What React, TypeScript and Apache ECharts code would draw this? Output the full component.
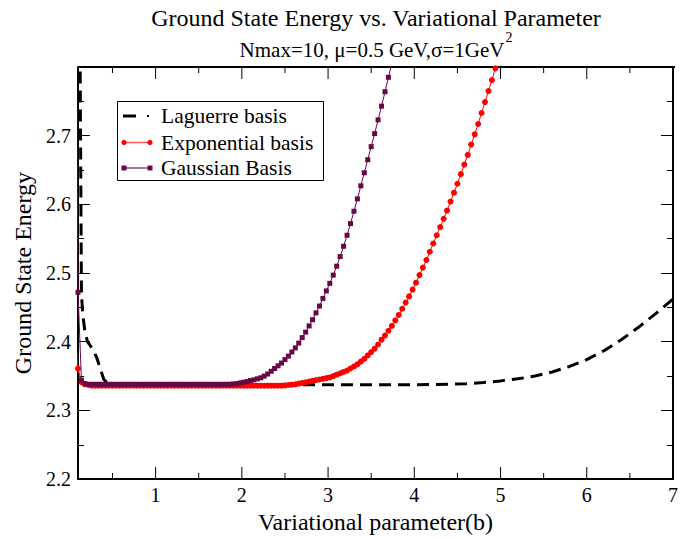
import React, { useEffect, useRef } from 'react';
import * as echarts from 'echarts';

// Parameter grid used by the two marker series: b = B0 + i * DB
const B0 = 0.06;
const DB = 0.04;

// Exponential basis (red, circles)
const expE = [
  2.43, 2.361, 2.341, 2.338, 2.337,
  2.336, 2.336, 2.336, 2.336, 2.336, 2.336, 2.336, 2.336, 2.336, 2.336,
  2.336, 2.336, 2.336, 2.336, 2.336, 2.336, 2.336, 2.336, 2.336, 2.336,
  2.336, 2.336, 2.336, 2.336, 2.336, 2.336, 2.336, 2.336, 2.336, 2.336,
  2.336, 2.336, 2.336, 2.336, 2.336, 2.336, 2.336, 2.336, 2.336, 2.336,
  2.336, 2.336, 2.336, 2.336, 2.336, 2.336, 2.336, 2.336, 2.336, 2.336,
  2.336, 2.336, 2.336, 2.336, 2.336, 2.336,
  2.3365, 2.337, 2.3375, 2.338, 2.339, 2.340, 2.341, 2.342, 2.343, 2.344,
  2.345, 2.346, 2.347, 2.348, 2.350, 2.352, 2.354, 2.356, 2.358, 2.361,
  2.364, 2.367, 2.371, 2.375, 2.380, 2.385, 2.390, 2.396, 2.403, 2.409,
  2.416, 2.423, 2.431, 2.439, 2.448, 2.457, 2.466, 2.476, 2.486, 2.497,
  2.508, 2.519, 2.531, 2.543, 2.555, 2.567, 2.579, 2.591, 2.604, 2.617,
  2.630, 2.644, 2.658, 2.672, 2.687, 2.702, 2.717, 2.733, 2.749, 2.765,
  2.781, 2.798, 2.815,
];

// Gaussian basis (maroon, squares)
const gaussE = [
  3.26, 2.472, 2.344, 2.339,
  2.338, 2.338, 2.338, 2.338, 2.338, 2.338, 2.338, 2.338, 2.338, 2.338,
  2.338, 2.338, 2.338, 2.338, 2.338, 2.338, 2.338, 2.338, 2.338, 2.338,
  2.338, 2.338, 2.338, 2.338, 2.338, 2.338, 2.338, 2.338, 2.338, 2.338,
  2.338, 2.338, 2.338, 2.338, 2.338, 2.338, 2.338, 2.338, 2.338, 2.338,
  2.338, 2.338,
  2.3385, 2.339, 2.340, 2.341, 2.342, 2.3435, 2.3445, 2.346, 2.3475, 2.350,
  2.353, 2.357, 2.361, 2.365, 2.369, 2.374, 2.379, 2.385, 2.391, 2.398,
  2.406, 2.414, 2.423, 2.432, 2.442, 2.452, 2.463, 2.474, 2.485, 2.497,
  2.510, 2.524, 2.539, 2.555, 2.572, 2.590, 2.608, 2.627, 2.646, 2.665,
  2.684, 2.703, 2.723, 2.743, 2.764, 2.785, 2.806, 2.827,
];

// Laguerre basis (black dashed)
const lagB = [
  0.08, 0.11, 0.125, 0.14, 0.155, 0.18, 0.21, 0.25, 0.28, 0.32, 0.36, 0.40,
  0.44, 0.50, 1.0, 2.0, 3.0, 4.0, 4.4, 4.6, 4.8, 5.0, 5.2, 5.4, 5.6, 5.8,
  6.0, 6.2, 6.4, 6.6, 6.8, 7.0,
];
const lagE = [
  3.9, 3.1, 2.80, 2.47, 2.44, 2.415, 2.40, 2.393, 2.387, 2.376, 2.36, 2.345,
  2.340, 2.338, 2.3375, 2.3375, 2.3375, 2.3375, 2.338, 2.339, 2.3405, 2.343,
  2.346, 2.350, 2.356, 2.364, 2.374, 2.387, 2.403, 2.421, 2.441, 2.462,
];

const xTicks = [1, 2, 3, 4, 5, 6, 7];
const xMinorTicks = [0.5, 1.5, 2.5, 3.5, 4.5, 5.5, 6.5];

const seriesNames = ['Laguerre basis', 'Exponential basis', 'Gaussian Basis'];
const titleText = 'Ground State Energy vs. Variational Parameter';
const subtitleMain = 'Nmax=10, \u03bc=0.5 GeV,\u03c3=1GeV';
const subtitleSup = '2';
const xName = 'Variational parameter(b)';
const yName = 'Ground State Energy';

const FONT = '"Liberation Serif", "Times New Roman", serif';
const RED = '#ff0000';
const MAROON = '#670748';

export default function App() {
  const ref = useRef<HTMLDivElement>(null);

  useEffect(() => {
    if (!ref.current) return;
    const chart = echarts.init(ref.current, null, { renderer: 'svg' });

    const expData = expE.map((e, i) => [B0 + i * DB, e]);
    const gaussData = gaussE.map((e, i) => [B0 + i * DB, e]);
    const lagData = lagB.map((b, i) => [b, lagE[i]]);

    const xMin = 0.1, xMax = 7, yMin = 2.2, yMax = 2.8;
    const MAJ = 12, MIN = 6;

    const xTickVals = xTicks.concat(xMinorTicks);
    const xTickLen = xTicks.map(() => MAJ).concat(xMinorTicks.map(() => MIN));

    const LX = 124, LX2 = 150, TX = 161;
    const r1 = 116, r2 = 142.5, r3 = 168;
    const legendFont = 21.5;
    const tickLS = { color: '#000', width: 1 };

    chart.setOption({
      animation: false,
      grid: { left: 78, right: 6, top: 67, bottom: 54 },
      xAxis: {
        type: 'value',
        min: xMin,
        max: xMax,
        splitNumber: 7,
        axisLine: { show: true, lineStyle: { color: '#000', width: 2 } },
        axisTick: { show: false },
        axisLabel: {
          show: true, showMinLabel: false, fontSize: 20, fontFamily: FONT, color: '#000', margin: 6,
        },
        splitLine: { show: false },
        name: xName,
        nameLocation: 'middle',
        nameGap: 24,
        nameTextStyle: { fontSize: 24, fontFamily: FONT, color: '#000' },
      },
      yAxis: [
        {
          type: 'value',
          min: yMin,
          max: yMax,
          interval: 0.1,
          position: 'left',
          axisLine: { show: true, lineStyle: { color: '#000', width: 2 } },
          axisTick: { show: true, inside: true, length: MAJ, lineStyle: tickLS },
          minorTick: { show: true, splitNumber: 2, length: MIN, lineStyle: tickLS },
          axisLabel: {
            show: true, showMaxLabel: false, fontSize: 20, fontFamily: FONT, color: '#000', margin: 7,
            formatter: (v: number) => v.toFixed(1),
          },
          splitLine: { show: false },
          name: yName,
          nameLocation: 'middle',
          nameGap: 39,
          nameTextStyle: { fontSize: 24, fontFamily: FONT, color: '#000' },
        },
        {
          type: 'value',
          min: yMin,
          max: yMax,
          interval: 0.1,
          position: 'right',
          axisLine: { show: true, lineStyle: { color: '#000', width: 2 } },
          axisTick: { show: true, inside: true, length: MAJ, lineStyle: tickLS },
          minorTick: { show: true, splitNumber: 2, length: MIN, lineStyle: tickLS },
          axisLabel: { show: false },
          splitLine: { show: false },
        },
      ],
      series: [
        {
          name: seriesNames[0],
          type: 'line',
          data: lagData,
          showSymbol: false,
          symbol: 'none',
          clip: true,
          lineStyle: { color: '#000', width: 3, type: [12, 7] },
          z: 2,
        },
        {
          name: seriesNames[1],
          type: 'line',
          data: expData,
          symbol: 'circle',
          symbolSize: 6,
          showAllSymbol: true,
          clip: true,
          itemStyle: { color: RED },
          lineStyle: { color: RED, width: 1 },
          z: 3,
        },
        {
          name: seriesNames[2],
          type: 'line',
          data: gaussData,
          symbol: 'rect',
          symbolSize: 5,
          showAllSymbol: true,
          clip: true,
          itemStyle: { color: MAROON },
          lineStyle: { color: MAROON, width: 1 },
          z: 4,
        },
        {
          type: 'custom',
          data: xTickVals.map((v) => [v, 2.5]),
          renderItem: (params: any, api: any) => {
            const v = api.value(0);
            const len = xTickLen[params.dataIndex];
            const b = api.coord([v, yMin]);
            const t = api.coord([v, yMax]);
            return {
              type: 'group',
              children: [
                { type: 'rect', shape: { x: b[0] - 0.5, y: b[1] - len, width: 1, height: len }, style: { fill: '#000' } },
                { type: 'rect', shape: { x: t[0] - 0.5, y: t[1], width: 1, height: len }, style: { fill: '#000' } },
              ],
            };
          },
        },
      ],
      graphic: [
        {
          type: 'rect',
          shape: { x: 78, y: 66, width: 597, height: 2 },
          style: { fill: '#000' },
        },
        {
          type: 'text',
          x: 376,
          y: 18,
          style: { text: titleText, fontSize: 24, fontFamily: FONT, fill: '#000', align: 'center', verticalAlign: 'middle' },
        },
        {
          type: 'text',
          x: 376,
          y: 45,
          style: {
            text: `{a|${subtitleMain}}{s|${subtitleSup}}`,
            align: 'center',
            verticalAlign: 'middle',
            rich: {
              a: { fontSize: 21, fontFamily: FONT, fill: '#000', lineHeight: 30, verticalAlign: 'bottom' },
              s: { fontSize: 14, fontFamily: FONT, fill: '#000', verticalAlign: 'top', padding: [0, 0, 0, 1] },
            },
          },
        },
        {
          type: 'rect',
          shape: { x: 117.5, y: 101.5, width: 206, height: 79 },
          style: { fill: '#fff', stroke: '#000', lineWidth: 1 },
          z: 100,
        },
        {
          type: 'line',
          shape: { x1: 123, y1: r1, x2: 136, y2: r1 },
          style: { stroke: '#000', lineWidth: 3 },
          z: 101,
        },
        {
          type: 'rect',
          shape: { x: 147, y: r1 - 1, width: 2, height: 2 },
          style: { fill: '#000' },
          z: 101,
        },
        {
          type: 'text',
          x: TX,
          y: r1,
          style: { text: seriesNames[0], fontSize: legendFont, fontFamily: FONT, fill: '#000', verticalAlign: 'middle' },
          z: 101,
        },
        {
          type: 'line',
          shape: { x1: LX, y1: r2, x2: LX2, y2: r2 },
          style: { stroke: '#ff5a5a', lineWidth: 1.5 },
          z: 101,
        },
        { type: 'circle', shape: { cx: LX, cy: r2, r: 2.6 }, style: { fill: RED }, z: 102 },
        { type: 'circle', shape: { cx: LX2, cy: r2, r: 2.6 }, style: { fill: RED }, z: 102 },
        {
          type: 'text',
          x: TX,
          y: r2,
          style: { text: seriesNames[1], fontSize: legendFont, fontFamily: FONT, fill: '#000', verticalAlign: 'middle' },
          z: 101,
        },
        {
          type: 'line',
          shape: { x1: LX, y1: r3, x2: LX2, y2: r3 },
          style: { stroke: '#8a4a78', lineWidth: 1.5 },
          z: 101,
        },
        { type: 'rect', shape: { x: LX - 2.5, y: r3 - 2.5, width: 5, height: 5 }, style: { fill: MAROON }, z: 102 },
        { type: 'rect', shape: { x: LX2 - 2.5, y: r3 - 2.5, width: 5, height: 5 }, style: { fill: MAROON }, z: 102 },
        {
          type: 'text',
          x: TX,
          y: r3,
          style: { text: seriesNames[2], fontSize: legendFont, fontFamily: FONT, fill: '#000', verticalAlign: 'middle' },
          z: 101,
        },
      ],
    });

    return () => chart.dispose();
  }, []);

  return (
    <div
      ref={ref}
      style={{ position: 'absolute', left: 0, top: 0, width: 681, height: 539, background: '#fff' }}
    />
  );
}
